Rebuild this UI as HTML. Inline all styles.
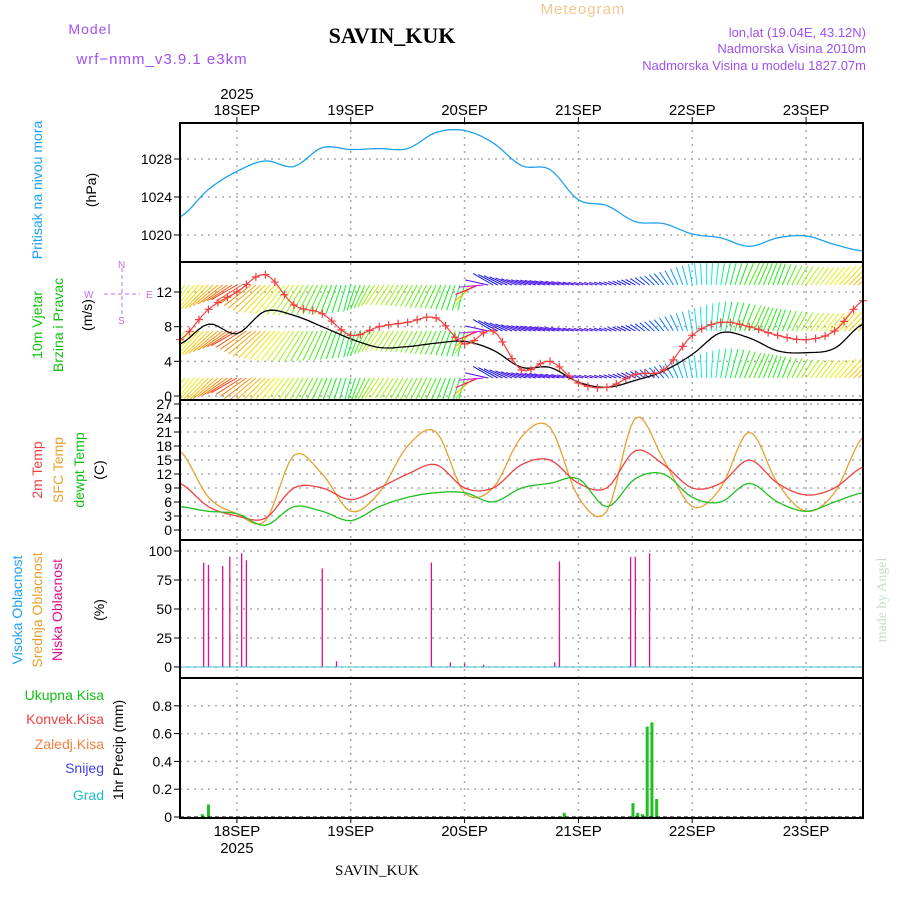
<!DOCTYPE html>
<html><head><meta charset="utf-8"><style>
body{margin:0;background:#fff;width:900px;height:900px;overflow:hidden}
svg{display:block;font-family:"Liberation Sans",sans-serif}
</style></head><body>
<svg id="c" width="900" height="900" xmlns="http://www.w3.org/2000/svg"><defs><clipPath id="wclip"><rect x="180" y="262" width="683" height="138"/></clipPath></defs></svg>
<script>
// ---- data (6-hourly from 12Z 17 Sep) ----
const dayLabels=["18SEP","19SEP","20SEP","21SEP","22SEP","23SEP"];
const pressure=[1021.9,1024.8,1026.7,1027.8,1027.2,1029.2,1029,1029.1,1029.1,1030.8,1031,1029.7,1027.3,1026.9,1023.7,1023.1,1021.4,1021.2,1020.1,1019.7,1018.8,1019.7,1019.9,1019,1018.3];
const windSpeed=[6,8.3,7.2,9.8,9.3,8,6.6,5.6,5.7,6.1,6.3,5.3,3.3,3.3,1.6,1,1.8,2.9,4.8,7.3,6.7,5.2,5,5.5,8.3];
const windGust=[6.5,10,12,14,10.5,9.5,7,8,8.5,9,6,7.5,3,4,1.5,1,2.5,3,7,8.5,8,7,6.5,7.5,11];
// direction the arrow points (deg clockwise from north, unwrapped)
const windDir=[215,225,240,225,215,205,195,215,210,205,195,300,290,285,285,290,300,320,350,370,385,380,395,400,410];
const temp2m=[10,5,3,2.5,9,9,6.5,9,12,14,9,9,14,15,10,9,17,14,9,10,15,10,7.5,9,13.5];
const tempSfc=[17,7,3.5,2,16,12,4,8,18,21,8,9,20,22,7,4,24,15,5,9,21,10,4,8,20];
const dewpt=[5,4,3.5,1,5,4,2,5,7,8,8,6,9,10,11,5,11,12,7,6,10,6,4,6,8];
const cloudHour=[5,6,9,10.5,13,14,30,33,53,57,60,64,79,80,95,96,99];
const cloudVal=[90,88,87,95,98,92,85,5,90,4,3,2,4,91,95,95,98];
const precipHour=[4.7,6,81,95.5,96.5,97.5,98.5,99.5,100.5];
const precipVal=[0.02,0.09,0.03,0.1,0.03,0.02,0.65,0.68,0.13];
const pTicks=[1020,1024,1028], wTicks=[0,4,8,12], tTicks=[0,3,6,9,12,15,18,21,24,27], cTicks=[0,25,50,75,100], rTicks=[0,0.2,0.4,0.6,0.8];

const S=document.getElementById('c'),NS='http://www.w3.org/2000/svg';
function el(t,a,p){const e=document.createElementNS(NS,t);for(const k in a)e.setAttribute(k,a[k]);(p||S).appendChild(e);return e;}
function txt(s,a,p){const e=el('text',a,p);e.textContent=s;return e;}
const X0=180,X1=863,HRS=144;
const xh=h=>X0+h*(X1-X0)/HRS;
const panels=[[123,262],[262,400],[400,540],[540,678],[678,818]];
const yP=v=>235-(v-1020)*9.5, yW=v=>396-v*8.667, yT=v=>530-v*4.667, yC=v=>667-v*1.16, yR=v=>817-v*139;
function interp(arr,h){const f=h/6,i=Math.min(Math.floor(f),arr.length-2),t=f-i;
const p0=arr[Math.max(i-1,0)],p1=arr[i],p2=arr[i+1],p3=arr[Math.min(i+2,arr.length-1)];
return 0.5*((2*p1)+(-p0+p2)*t+(2*p0-5*p1+4*p2-p3)*t*t+(-p0+3*p1-3*p2+p3)*t*t*t);}
function lin(arr,h){const f=h/6,i=Math.min(Math.floor(f),arr.length-2),t=f-i;return arr[i]*(1-t)+arr[i+1]*t;}
function smoothPath(arr,fy){let d='';for(let h=0;h<=HRS;h+=1){const v=interp(arr,h);d+=(h?'L':'M')+xh(h).toFixed(1)+','+fy(v).toFixed(1);}return d;}

const gg=el('g',{stroke:'#aaa','stroke-dasharray':'2,5','stroke-width':1.5});

dayLabels.forEach((d,i)=>{const x=xh(12+24*i);el('line',{x1:x,x2:x,y1:123,y2:818},gg);});
pTicks.forEach(v=>el('line',{x1:X0,x2:X1,y1:yP(v),y2:yP(v)},gg));
wTicks.forEach(v=>el('line',{x1:X0,x2:X1,y1:yW(v),y2:yW(v)},gg));
tTicks.forEach(v=>el('line',{x1:X0,x2:X1,y1:yT(v),y2:yT(v)},gg));
cTicks.forEach(v=>el('line',{x1:X0,x2:X1,y1:yC(v),y2:yC(v)},gg));
rTicks.forEach(v=>el('line',{x1:X0,x2:X1,y1:yR(v),y2:yR(v)},gg));

function yTicks(ticks,fy,name){const g=el('g',{'font-size':14,'text-anchor':'end'});
ticks.forEach(v=>{txt(String(v),{x:172,y:fy(v)+5},g);el('line',{x1:174,x2:X0,y1:fy(v),y2:fy(v),stroke:'#000'},g);});}
yTicks(pTicks,yP,'pressure-axis');yTicks(wTicks,yW,'wind-axis');yTicks(tTicks,yT,'temp-axis');yTicks(cTicks,yC,'cloud-axis');yTicks(rTicks,yR,'precip-axis');

const pl=el('path',{d:smoothPath(pressure,yP),fill:'none',stroke:'#1ea0f0','stroke-width':1.3});


// wind arrows: colour by arrow axis (dir mod 180)
const ha=[0,20,40,55,70,90,135,180],hh=[180,120,60,30,-30,-85,-140,-180];
function hueFor(d){const a=((d%180)+180)%180;for(let i=1;i<ha.length;i++)if(a<=ha[i]){const t=(a-ha[i-1])/(ha[i]-ha[i-1]);return (hh[i-1]+t*(hh[i]-hh[i-1])+360)%360;}return 180;}
const wb=el('g',{'stroke-width':1,'clip-path':'url(#wclip)'});
[285,331,378].forEach(base=>{for(let h=0;h<=HRS;h+=1){const sp=interp(windSpeed,h);const d=lin(windDir,h);
const L=Math.min(5+sp*3.4,38),r=d*Math.PI/180,x=xh(h),dx=Math.sin(r)*L,dy=-Math.cos(r)*L;
el('line',{x1:x,y1:base,x2:x+dx,y2:base+dy,stroke:`hsl(${hueFor(d)},90%,50%)`},wb);}});

const ws=el('path',{d:smoothPath(windSpeed,yW),fill:'none',stroke:'#000','stroke-width':1.3});

const gu=el('path',{d:smoothPath(windGust,yW),fill:'none',stroke:'#f04040','stroke-width':1.2});

const gm=el('g',{stroke:'#f04040','stroke-width':1.2});
for(let h=0;h<=HRS;h+=2){const x=xh(h),y=yW(interp(windGust,h));el('path',{d:`M${x-4},${y}h8M${x},${y-4}v8`},gm);}

[[tempSfc,'#e8a030','sfc-temp-line'],[temp2m,'#f04040','2m-temp-line'],[dewpt,'#20c020','dewpoint-line']].forEach(([a,c,n])=>{
const p=el('path',{d:smoothPath(a,yT),fill:'none',stroke:c,'stroke-width':1.3});});

const cg=el('g',{stroke:'#e0108a','stroke-width':1.3});
cloudHour.forEach((h,i)=>el('line',{x1:xh(h),x2:xh(h),y1:yC(0),y2:yC(cloudVal[i])},cg));
el('line',{x1:X0,x2:X1,y1:yC(0),y2:yC(0),stroke:'#40c0e0','stroke-width':1});

const rg=el('g',{fill:'#20c020'});
precipHour.forEach((h,i)=>el('rect',{x:xh(h)-1.5,width:3,y:yR(precipVal[i]),height:yR(0)-yR(precipVal[i])},rg));
el('line',{x1:X0,x2:X1,y1:817,y2:817,stroke:'#000','stroke-dasharray':'4,3'});

panels.forEach((p,i)=>{const r=el('rect',{x:X0,y:p[0],width:X1-X0,height:p[1]-p[0],fill:'none',stroke:'#000','stroke-width':2});
});

const dl=el('g',{'font-size':15,'text-anchor':'middle'});
dayLabels.forEach((d,i)=>{const x=xh(12+24*i);txt(d,{x:x,y:115},dl);txt(d,{x:x,y:836},dl);
el('line',{x1:x,x2:x,y1:117,y2:123,stroke:'#000'},dl);el('line',{x1:x,x2:x,y1:818,y2:823,stroke:'#000'},dl);});
txt('2025',{x:xh(12),y:99},dl);txt('2025',{x:xh(12),y:853},dl);
</script>
<svg width="900" height="900" style="position:absolute;left:0;top:0" font-family="Liberation Sans, sans-serif">
<text x="90" y="34" font-size="14" fill="#a050f0" text-anchor="middle" letter-spacing="1">Model</text>
<text x="162" y="64" font-size="15" fill="#a050f0" text-anchor="middle" letter-spacing="1">wrf−nmm_v3.9.1  e3km</text>
<text x="392" y="43" font-size="22" font-weight="bold" font-family="Liberation Serif, serif" text-anchor="middle">SAVIN_KUK</text>
<text x="583" y="14" font-size="15" fill="#f0c890" text-anchor="middle" letter-spacing="1">Meteogram</text>
<text x="866" y="37" font-size="13" fill="#a050f0" text-anchor="end">lon,lat (19.04E, 43.12N)</text>
<text x="866" y="53" font-size="13" fill="#a050f0" text-anchor="end">Nadmorska Visina 2010m</text>
<text x="866" y="70" font-size="13" fill="#a050f0" text-anchor="end">Nadmorska Visina u modelu 1827.07m</text>
<text transform="translate(42,190) rotate(-90)" font-size="14" fill="#20a0f0" text-anchor="middle">Pritisak na nivou mora</text>
<text transform="translate(96,190) rotate(-90)" font-size="14" text-anchor="middle">(hPa)</text>
<text transform="translate(42,325) rotate(-90)" font-size="14" fill="#10c010" text-anchor="middle">10m Vjetar</text>
<text transform="translate(63,325) rotate(-90)" font-size="14" fill="#10c010" text-anchor="middle">Brzina i Pravac</text>
<text transform="translate(92,315) rotate(-90)" font-size="14" text-anchor="middle">(m/s)</text>
<g fill="#c070f0" stroke="#c070f0" font-size="10">
<line x1="104" y1="294" x2="140" y2="294" stroke-dasharray="4,3"/><line x1="122" y1="268" x2="122" y2="318" stroke-dasharray="4,3"/>
<text x="84" y="298" stroke="none">W</text><text x="118" y="268" stroke="none">N</text><text x="118" y="324" stroke="none">S</text><text x="146" y="298" stroke="none">E</text></g>
<text transform="translate(42,470) rotate(-90)" font-size="14" fill="#f04040" text-anchor="middle">2m Temp</text>
<text transform="translate(63,470) rotate(-90)" font-size="14" fill="#e8a030" text-anchor="middle">SFC Temp</text>
<text transform="translate(84,470) rotate(-90)" font-size="14" fill="#10c010" text-anchor="middle">dewpt Temp</text>
<text transform="translate(104,470) rotate(-90)" font-size="14" text-anchor="middle">(C)</text>
<text transform="translate(22,610) rotate(-90)" font-size="14" fill="#20a0f0" text-anchor="middle">Visoka Oblacnost</text>
<text transform="translate(42,610) rotate(-90)" font-size="14" fill="#e8a030" text-anchor="middle">Srednja Oblacnost</text>
<text transform="translate(62,610) rotate(-90)" font-size="14" fill="#e0108a" text-anchor="middle">Niska Oblacnost</text>
<text transform="translate(104,610) rotate(-90)" font-size="14" text-anchor="middle">(%)</text>
<g font-size="14" text-anchor="end">
<text x="104" y="700" fill="#10c010">Ukupna Kisa</text><text x="104" y="724" fill="#f04040">Konvek.Kisa</text>
<text x="104" y="749" fill="#f08040">Zaledj.Kisa</text><text x="104" y="773" fill="#4040f0">Snijeg</text><text x="104" y="800" fill="#20c0c0">Grad</text></g>
<text transform="translate(123,750) rotate(-90)" font-size="14" text-anchor="middle">1hr Precip (mm)</text>
<text transform="translate(886,600) rotate(-90)" font-size="14" fill="#c8dcc8" font-family="Liberation Serif, serif" text-anchor="middle">made by Angel</text>
<text x="377" y="875" font-size="15" font-family="Liberation Serif, serif" text-anchor="middle">SAVIN_KUK</text>
</svg>
</body></html>
